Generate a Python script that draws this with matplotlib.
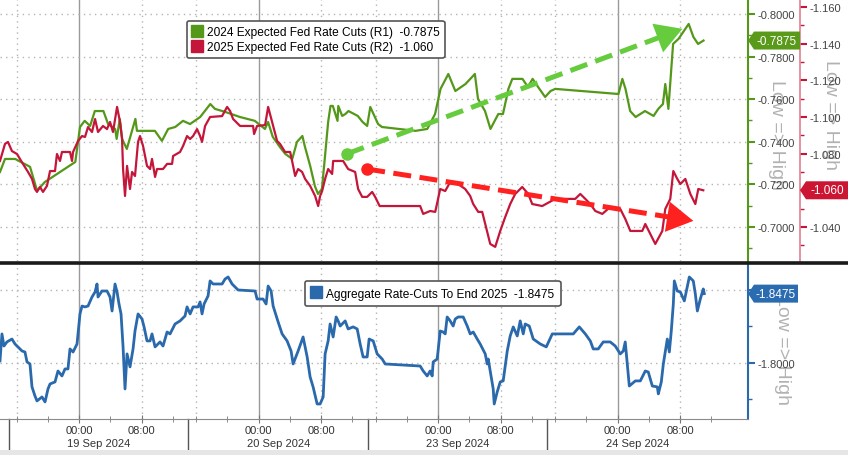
import matplotlib
matplotlib.use('Agg')
import matplotlib.pyplot as plt
import matplotlib.transforms as mtrans
from matplotlib.lines import Line2D
from matplotlib.patches import Rectangle, Polygon
import numpy as np

plt.rcParams['font.family'] = ['Liberation Sans', 'DejaVu Sans']

# ---------------- data ----------------
# time axis: hours since the 19 Sep session open (each session = 23 h, 00:00 is 9 h after open)
green_t = [-1.15, -0.51, 0.8, 2.7, 3.6, 4.6, 8.5, 9.1, 9.7, 10.4, 11.0, 12.1, 12.7, 13.6, 13.8, 14.2,
           14.5, 15.1, 16.2, 16.4, 18.7, 19.6, 20.4, 21.3, 22.3, 23.2, 24.5, 25.8, 26.4, 27.7, 29.6,
           31.5, 32.8, 33.2, 33.8, 34.7, 35.4, 36.3, 36.9, 37.6, 37.9, 38.6, 39.2, 39.6, 40.1, 40.5,
           40.9, 41.2, 41.5, 42.1, 42.2, 42.7, 43.1, 43.5, 44.7, 45.3, 45.9, 46.3, 47.3, 47.8, 52.1,
           53.6, 54.6, 55.3, 56.3, 57.2, 58.5, 59.7, 60.1, 61.0, 61.7, 62.7, 63.3, 64.0, 64.5, 65.8,
           66.5, 67.1, 67.8, 68.7, 69.4, 70.0, 78.1, 78.6, 79.0, 79.6, 80.3, 81.5, 82.6, 83.2, 83.8,
           84.1, 84.5, 85.1, 85.8, 87.1, 87.7, 88.3, 89.0]
green_v = [-0.7258, -0.7319, -0.7319, -0.7282, -0.7170, -0.7211, -0.7305, -0.7469, -0.7498, -0.7474,
           -0.7544, -0.7544, -0.7483, -0.7460, -0.7413, -0.7507, -0.7413, -0.7366, -0.7507, -0.7451,
           -0.7451, -0.7404, -0.7460, -0.7469, -0.7498, -0.7483, -0.7516, -0.7577, -0.7554, -0.7540,
           -0.7516, -0.7498, -0.7460, -0.7493, -0.7423, -0.7376, -0.7343, -0.7319, -0.7399, -0.7427,
           -0.7380, -0.7286, -0.7192, -0.7155, -0.7178, -0.7333, -0.7493, -0.7568, -0.7568, -0.7498,
           -0.7568, -0.7521, -0.7530, -0.7544, -0.7521, -0.7493, -0.7474, -0.7563, -0.7483, -0.7469,
           -0.7451, -0.7460, -0.7530, -0.7648, -0.7718, -0.7638, -0.7671, -0.7718, -0.7601, -0.7544,
           -0.7460, -0.7530, -0.7530, -0.7648, -0.7695, -0.7695, -0.7657, -0.7695, -0.7657, -0.7610,
           -0.7638, -0.7648, -0.7624, -0.7695, -0.7648, -0.7544, -0.7516, -0.7544, -0.7521, -0.7554,
           -0.7577, -0.7671, -0.7554, -0.7859, -0.7883, -0.7953, -0.7892, -0.7859, -0.7875]

red_t = [-1.15, -0.51, -0.13, 0.38, 1.03, 1.79, 2.44, 2.95, 3.33, 3.59, 3.97, 4.36, 4.87, 5.26, 5.90,
         6.15, 6.54, 6.79, 7.82, 8.08, 8.21, 8.85, 9.36, 9.74, 10.13, 10.64, 11.03, 11.41, 12.05,
         12.56, 12.95, 13.33, 13.85, 14.23, 14.49, 14.62, 14.87, 15.13, 15.51, 15.77, 16.15, 16.54,
         16.79, 17.18, 17.69, 18.08, 18.33, 18.72, 18.97, 19.74, 20.26, 20.90, 21.03, 21.92, 22.31,
         22.82, 23.21, 23.59, 24.10, 24.49, 24.74, 25.13, 25.77, 27.31, 27.95, 28.33, 28.72, 29.62,
         31.28, 31.41, 31.79, 32.82, 33.21, 33.72, 34.36, 34.74, 35.38, 36.03, 36.28, 36.67, 37.05,
         37.56, 37.95, 38.59, 39.23, 39.62, 39.87, 40.13, 40.51, 40.90, 41.41, 41.54, 42.18, 42.82,
         43.46, 44.36, 44.74, 45.26, 45.90, 46.54, 46.92, 47.5, 50.13, 52.69, 53.08, 53.97, 54.62,
         55.26, 55.90, 56.54, 57.18, 58.46, 59.10, 59.49, 60.13, 60.64, 61.03, 61.67, 62.31, 62.95,
         63.59, 64.23, 64.87, 65.77, 66.54, 67.05, 68.33, 70.0, 72.56, 73.21, 73.85, 74.49, 75.13,
         76.03, 77.05, 78.33, 78.97, 79.62, 81.15, 81.54, 82.18, 82.82, 83.72, 84.10, 84.74, 85.13,
         85.64, 86.03, 86.67, 87.31, 87.95, 88.33, 88.97]
red_v = [-1.0760, -1.0853, -1.0864, -1.0814, -1.0798, -1.0744, -1.0700, -1.0662, -1.0607, -1.0591,
         -1.0618, -1.0591, -1.0624, -1.0705, -1.0705, -1.0798, -1.0760, -1.0809, -1.0809, -1.0760,
         -1.0809, -1.0869, -1.0896, -1.0891, -1.0945, -1.0918, -1.0989, -1.0918, -1.0951, -1.0934,
         -1.0973, -1.0918, -1.1055, -1.0973, -1.0880, -1.0716, -1.0569, -1.0733, -1.0607, -1.0700,
         -1.0678, -1.0864, -1.0896, -1.0842, -1.0733, -1.0716, -1.0771, -1.0673, -1.0716, -1.0716,
         -1.0744, -1.0744, -1.0787, -1.0809, -1.0842, -1.0896, -1.0880, -1.0896, -1.0934, -1.0896,
         -1.0864, -1.0951, -1.1000, -1.1005, -1.1055, -1.1033, -1.0989, -1.0951, -1.0951, -1.0907,
         -1.0951, -1.0956, -1.1055, -1.0973, -1.0869, -1.0853, -1.0809, -1.0809, -1.0760, -1.0678,
         -1.0716, -1.0700, -1.0662, -1.0624, -1.0569, -1.0514, -1.0569, -1.0596, -1.0662, -1.0716,
         -1.0689, -1.0760, -1.0760, -1.0760, -1.0716, -1.0700, -1.0607, -1.0564, -1.0564, -1.0591,
         -1.0564, -1.0514, -1.0514, -1.0514, -1.0471, -1.0487, -1.0482, -1.0607, -1.0596, -1.0645,
         -1.0645, -1.0607, -1.0569, -1.0525, -1.0482, -1.0482, -1.0416, -1.0307, -1.0291, -1.0378,
         -1.0454, -1.0525, -1.0580, -1.0618, -1.0580, -1.0525, -1.0514, -1.0553, -1.0553, -1.0580,
         -1.0553, -1.0525, -1.0487, -1.0471, -1.0509, -1.0498, -1.0444, -1.0378, -1.0378, -1.0416,
         -1.0362, -1.0307, -1.0378, -1.0498, -1.0553, -1.0705, -1.0662, -1.0634, -1.0662, -1.0580,
         -1.0525, -1.0607, -1.0600]

blue_t = [-1.15, -0.90, -0.64, -0.26, 0.38, 0.77, 1.15, 1.67, 2.05, 2.31, 2.69, 2.95, 3.33, 3.59,
          4.23, 4.62, 5.00, 5.26, 5.90, 6.28, 6.79, 7.18, 7.56, 7.82, 8.21, 8.72, 8.85, 9.10, 9.36,
          9.74, 10.13, 10.64, 11.03, 11.28, 11.41, 11.92, 12.56, 12.95, 13.21, 13.59, 13.85, 14.10,
          14.36, 14.62, 14.87, 15.13, 15.51, 15.90, 16.15, 16.54, 17.05, 17.31, 17.69, 18.08, 18.33,
          18.72, 19.36, 19.74, 20.26, 20.64, 21.28, 21.92, 22.56, 22.82, 23.21, 23.59, 24.23, 24.49,
          24.74, 25.00, 25.51, 25.77, 26.15, 27.31, 27.69, 28.08, 28.59, 29.36, 31.54, 31.79, 32.56,
          32.95, 33.21, 33.59, 33.85, 34.49, 35.00, 35.64, 36.15, 36.41, 37.05, 37.69, 38.21, 38.59,
          38.97, 39.49, 39.87, 40.26, 40.51, 40.90, 41.15, 41.54, 41.92, 42.18, 42.44, 43.08, 43.46,
          44.10, 44.62, 45.00, 45.38, 45.90, 46.15, 46.67, 47.18, 47.82, 48.21, 52.69, 53.08, 53.59,
          53.97, 54.23, 54.36, 54.87, 55.26, 55.64, 55.90, 56.15, 56.54, 56.92, 57.18, 57.56, 58.21,
          58.72, 59.10, 59.49, 60.00, 60.38, 61.03, 61.28, 61.41, 61.67, 62.05, 62.18, 62.56, 62.95,
          63.33, 63.85, 64.23, 64.62, 65.13, 65.51, 65.90, 66.15, 66.67, 67.18, 68.08, 68.85, 69.62,
          70.26, 72.31, 73.08, 73.85, 74.49, 74.87, 75.51, 76.15, 77.05, 77.69, 78.33, 78.72, 78.97,
          79.23, 79.49, 80.26, 80.90, 81.54, 81.92, 82.44, 83.08, 83.21, 83.59, 83.85, 84.36, 84.62,
          84.87, 85.13, 85.26, 85.64, 86.03, 86.54, 86.92, 87.18, 87.69, 87.95, 88.21, 88.59, 88.97,
          89.10]
blue_v = [-1.8014, -1.8199, -1.8116, -1.8144, -1.8164, -1.8130, -1.8110, -1.8082, -1.8075, -1.8007,
          -1.7993, -1.7836, -1.7774, -1.7740, -1.7767, -1.7733, -1.7822, -1.7856, -1.7870, -1.7945,
          -1.7911, -1.7959, -1.7959, -1.8096, -1.8075, -1.8130, -1.8199, -1.8336, -1.8390, -1.8384,
          -1.8390, -1.8452, -1.8486, -1.8541, -1.8452, -1.8493, -1.8493, -1.8452, -1.8356, -1.8541,
          -1.8486, -1.8404, -1.8336, -1.8110, -1.7822, -1.8062, -1.7973, -1.8096, -1.8219, -1.8336,
          -1.8301, -1.8247, -1.8151, -1.8151, -1.8199, -1.8110, -1.8144, -1.8116, -1.8212, -1.8199,
          -1.8267, -1.8288, -1.8322, -1.8384, -1.8336, -1.8384, -1.8384, -1.8418, -1.8336, -1.8404,
          -1.8459, -1.8562, -1.8541, -1.8541, -1.8575, -1.8589, -1.8541, -1.8500, -1.8493, -1.8438,
          -1.8438, -1.8404, -1.8527, -1.8493, -1.8390, -1.8281, -1.8199, -1.8151, -1.8082, -1.7993,
          -1.8082, -1.8178, -1.8041, -1.7904, -1.7836, -1.7719, -1.7719, -1.7767, -1.8062, -1.8151,
          -1.8267, -1.8178, -1.8315, -1.8288, -1.8253, -1.8288, -1.8233, -1.8247, -1.8233, -1.8130,
          -1.8041, -1.8041, -1.8164, -1.8151, -1.8062, -1.8027, -1.7993, -1.7979, -1.7945, -1.7911,
          -1.7945, -1.7911, -1.8007, -1.8027, -1.8219, -1.8212, -1.8199, -1.8315, -1.8288, -1.8253,
          -1.8301, -1.8315, -1.8315, -1.8253, -1.8199, -1.8212, -1.8164, -1.8130, -1.8062, -1.7993,
          -1.8027, -1.7945, -1.7822, -1.7719, -1.7801, -1.7870, -1.7877, -1.8082, -1.8185, -1.8247,
          -1.8185, -1.8288, -1.8199, -1.8267, -1.8253, -1.8164, -1.8130, -1.8110, -1.8199, -1.8199,
          -1.8199, -1.8247, -1.8199, -1.8151, -1.8096, -1.8096, -1.8144, -1.8144, -1.8116, -1.8062,
          -1.8082, -1.8144, -1.7993, -1.7842, -1.7877, -1.7877, -1.7945, -1.7938, -1.7842, -1.7836,
          -1.7788, -1.7870, -1.7993, -1.8164, -1.8075, -1.8219, -1.8404, -1.8562, -1.8493, -1.8486,
          -1.8425, -1.8521, -1.8589, -1.8562, -1.8473, -1.8356, -1.8438, -1.8507, -1.8475]

green_label = '2024 Expected Fed Rate Cuts (R1)  -0.7875'
red_label = '2025 Expected Fed Rate Cuts (R2)  -1.060'
blue_label = 'Aggregate Rate-Cuts To End 2025  -1.8475'
green_last, red_last, blue_last = -0.7875, -1.060, -1.8475

# trend arrows (time, value) start -> end
green_arrow = [(43.3, -0.7343), (86.3, -0.7930)]
red_arrow = [(45.9, -1.0716), (87.7, -1.0433)]

session_days = ['19 Sep 2024', '20 Sep 2024', '23 Sep 2024', '24 Sep 2024']
session_len = 23
midnight_offset = 9
hour_labels = ['00:00', '08:00']

# ---------------- styling ----------------
GREEN = '#54981a'
RED = '#c4163a'
BLUE = '#2a69ac'
ARROW_G = '#66cc3d'
ARROW_R = '#ff2020'
GRID = '#b4b4b4'

W, H = 848, 456
fig = plt.figure(figsize=(W / 100, H / 100), dpi=100)
fig.patch.set_facecolor('white')

ax1 = fig.add_axes([0, 1 - 262 / H, 748 / W, 262 / H])
ax2 = fig.add_axes([0, 36 / H, 748 / W, 155 / H])
axr = ax1.twinx()

xlim = (-1.15, 94.7)
for a in (ax1, ax2, axr):
    a.set_xlim(*xlim)
    a.set_facecolor('none')
ax1.set_ylim(-0.684, -0.807)
axr.set_ylim(-1.0214, -1.1644)
ax2.set_ylim(-1.7616, -1.8678)

# vertical grid
for k in range(4):
    s = k * session_len
    for a in (ax1, ax2):
        a.axvline(s + midnight_offset, color='#9a9a9a', lw=1.0, zorder=0)
        a.axvline(s + 1, color=GRID, lw=1.0, ls=(0, (1, 3)), zorder=0)
        a.axvline(s + midnight_offset + 8, color=GRID, lw=1.0, ls=(0, (1, 3)), zorder=0)

# horizontal grid
for v in np.arange(-0.80, -0.69, 0.02):
    ax1.axhline(v, color=GRID, lw=1.0, ls=(0, (1, 3)), zorder=0)
for v in (-1.85, -1.80):
    ax2.axhline(v, color=GRID, lw=1.0, ls=(0, (1, 3)), zorder=0)

# series
ax1.plot(green_t, green_v, color=GREEN, lw=1.6, zorder=3)
axr.plot(red_t, red_v, color=RED, lw=1.6, zorder=3)
ax2.plot(blue_t, blue_v, color=BLUE, lw=2.0, zorder=3)

# trend arrows
def trend_arrow(ax, pts, color):
    (x0, y0), (x1, y1) = pts
    xm, ym = x0 + 0.93 * (x1 - x0), y0 + 0.93 * (y1 - y0)
    ax.plot([x0, xm], [y0, ym], color=color, lw=3.6, dashes=(3.6, 1.7), zorder=5,
            solid_capstyle='butt', dash_capstyle='butt')
    ax.plot([x0], [y0], 'o', color=color, ms=8, zorder=5)
    xs, ys = x0 + 0.88 * (x1 - x0), y0 + 0.88 * (y1 - y0)
    ax.annotate('', xy=(x1, y1), xytext=(xs, ys), zorder=6,
                arrowprops=dict(arrowstyle='-|>,head_length=0.95,head_width=0.55',
                                mutation_scale=20, color=color, lw=0,
                                shrinkA=0, shrinkB=0))

trend_arrow(ax1, green_arrow, ARROW_G)
trend_arrow(axr, red_arrow, ARROW_R)

# spines
for a in (ax1, ax2, axr):
    for sp in a.spines.values():
        sp.set_visible(False)
ax1.spines['right'].set_visible(True)
ax1.spines['right'].set_color(GREEN)
ax1.spines['right'].set_linewidth(1.5)
axr.spines['right'].set_visible(True)
axr.spines['right'].set_position(('axes', 800 / 748))
axr.spines['right'].set_color('#e08090')
axr.spines['right'].set_linewidth(1.2)
ax2.spines['right'].set_visible(True)
ax2.spines['right'].set_color(BLUE)
ax2.spines['right'].set_linewidth(1.5)
ax2.spines['bottom'].set_visible(True)
ax2.spines['bottom'].set_color('#8a8a8a')

# y ticks
ax1.yaxis.tick_right()
ax1.set_yticks(np.arange(-0.80, -0.69, 0.02))
ax1.set_yticks(np.arange(-0.80, -0.68, 0.01), minor=True)
ax1.yaxis.set_major_formatter(matplotlib.ticker.FormatStrFormatter('%.4f'))
ax1.tick_params(axis='y', which='major', colors=GREEN, labelcolor='#444444', length=5, width=1.5,
                labelsize=8, pad=2)
ax1.tick_params(axis='y', which='minor', colors=GREEN, length=3, width=1)
ax1.tick_params(axis='x', which='both', bottom=False, labelbottom=False)

axr.set_yticks(np.arange(-1.16, -1.03, 0.02))
axr.set_yticks(np.arange(-1.16, -1.02, 0.01), minor=True)
axr.yaxis.set_major_formatter(matplotlib.ticker.FormatStrFormatter('%.3f'))
axr.tick_params(axis='y', which='major', colors=RED, labelcolor='#444444', length=5, width=1.5,
                labelsize=8, pad=2)
axr.tick_params(axis='y', which='minor', colors=RED, length=3, width=1)
axr.tick_params(axis='x', which='both', bottom=False, labelbottom=False)

ax2.yaxis.tick_right()
ax2.set_yticks([-1.85, -1.80])
ax2.set_yticks([-1.825, -1.775], minor=True)
ax2.yaxis.set_major_formatter(matplotlib.ticker.FormatStrFormatter('%.4f'))
ax2.tick_params(axis='y', which='major', colors=BLUE, labelcolor='#444444', length=5, width=1.5,
                labelsize=8, pad=2)
ax2.tick_params(axis='y', which='minor', colors=BLUE, length=3, width=1)

# x ticks
major_x, major_lab, minor_x = [], [], []
for k in range(4):
    s = k * session_len
    major_x += [s + midnight_offset, s + midnight_offset + 8]
    major_lab += hour_labels
    minor_x += [s + 1, s + 5, s + 13, s + 21]
ax2.set_xticks(major_x)
ax2.set_xticklabels(major_lab)
ax2.set_xticks(minor_x, minor=True)
ax2.tick_params(axis='x', which='major', direction='inout', length=6, colors='#777777',
                labelcolor='#333333', labelsize=8, pad=1)
ax2.tick_params(axis='x', which='minor', direction='inout', length=4, colors='#777777')

bt = mtrans.blended_transform_factory(ax2.transData, ax2.transAxes)
for k, d in enumerate(session_days):
    s = k * session_len
    ax2.text(s + session_len / 2, -0.155, d, transform=bt, ha='center', va='center',
             fontsize=8, color='#333333')
    ax2.plot([s, s], [0, -0.21], transform=bt, color='#555555', lw=1.0, clip_on=False)

# legends
hg = Line2D([], [], marker='s', ls='none', color=GREEN, ms=9)
hr = Line2D([], [], marker='s', ls='none', color=RED, ms=9)
hb = Line2D([], [], marker='s', ls='none', color=BLUE, ms=9)
leg = axr.legend([hg, hr], [green_label, red_label], loc='upper left',
                 bbox_to_anchor=(187 / 748, 1 - 22 / 262), borderaxespad=0, fontsize=8.6,
                 frameon=True, fancybox=True, handlelength=0.8, handletextpad=0.4,
                 labelspacing=0.2, borderpad=0.45, framealpha=1)
leg.get_frame().set_edgecolor('#555555')
leg.get_frame().set_linewidth(1.2)
leg.set_zorder(10)
leg2 = ax2.legend([hb], [blue_label], loc='upper left',
                  bbox_to_anchor=(305 / 748, 1 - 17 / 155), borderaxespad=0, fontsize=8.6,
                  frameon=True, fancybox=True, handlelength=0.8, handletextpad=0.4,
                  borderpad=0.55, framealpha=1)
leg2.get_frame().set_edgecolor('#555555')
leg2.get_frame().set_linewidth(1.2)
leg2.set_zorder(10)

# "Low => High" notes
NOTE = '#b2b2b2'
ax1.text(776 / 748, 0.485, 'Low => High', transform=ax1.transAxes, rotation=270,
         ha='center', va='center', fontsize=14, color=NOTE, clip_on=False, zorder=0)
ax1.text(830 / 748, 0.56, 'Low => High', transform=ax1.transAxes, rotation=270,
         ha='center', va='center', fontsize=14, color=NOTE, clip_on=False, zorder=0)
ax2.text(783 / 748, 0.45, 'Low => High', transform=ax2.transAxes, rotation=270,
         ha='center', va='center', fontsize=14, color=NOTE, clip_on=False, zorder=0)

# last-value tags (pentagon pointing left at the axis)
inv = fig.transFigure.inverted()

def tag(ax, x_left_px, x_right_px, val, text, color):
    yp = ax.transData.transform((0, val))[1]
    hh, tip = 9, 6
    pts_px = [(x_left_px, yp), (x_left_px + tip, yp + hh), (x_right_px, yp + hh),
              (x_right_px, yp - hh), (x_left_px + tip, yp - hh)]
    pts = inv.transform(pts_px)
    fig.add_artist(Polygon(pts, closed=True, transform=fig.transFigure, fc=color, ec='none',
                           zorder=12))
    cx = inv.transform(((x_left_px + tip + x_right_px) / 2, yp))
    fig.text(cx[0], cx[1], text, ha='center', va='center', fontsize=8.5, color='white',
             zorder=13)

tag(ax1, 748, 800, green_last, '-0.7875', '#5a9a1a')
tag(axr, 800, 848, red_last, '-1.060', '#cc1532')
tag(ax2, 748, 798, blue_last, '-1.8475', '#2b6cb0')

# separator between panels and bottom band
fig.add_artist(Line2D([0, 1], [1 - 263.5 / H, 1 - 263.5 / H], transform=fig.transFigure,
                      color='#1a1a1a', lw=2.6))
fig.add_artist(Rectangle((0, 0), 1, 5 / H, transform=fig.transFigure, color='#e6e6e6', lw=0))

fig.savefig('out.png', dpi=100)
